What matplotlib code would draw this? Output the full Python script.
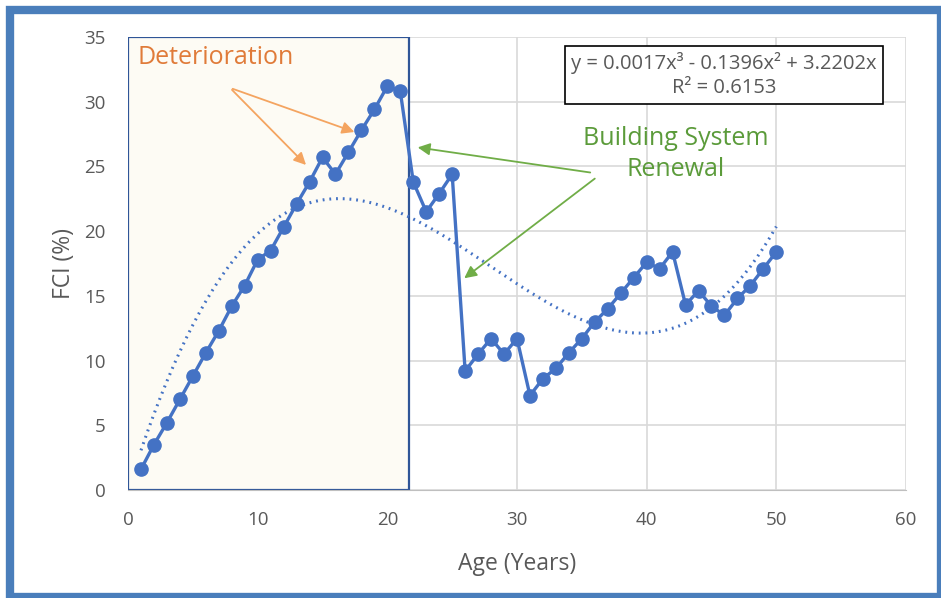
import matplotlib
matplotlib.use('Agg')
import matplotlib.pyplot as plt
from matplotlib.patches import Rectangle
import numpy as np

plt.rcParams['font.family'] = ['Open Sans', 'DejaVu Sans']

# data
age = list(range(1, 51))
fci = [1.6, 3.5, 5.2, 7.0, 8.8, 10.6, 12.3, 14.2, 15.8, 17.8,
       18.5, 20.3, 22.1, 23.8, 25.7, 24.4, 26.1, 27.8, 29.4, 31.2,
       30.8, 23.8, 21.5, 22.9, 24.4, 9.2, 10.5, 11.7, 10.5, 11.7,
       7.3, 8.6, 9.4, 10.6, 11.7, 13.0, 14.0, 15.2, 16.4, 17.6,
       17.1, 18.4, 14.3, 15.4, 14.2, 13.5, 14.8, 15.8, 17.1, 18.4]
eq_text = 'y = 0.0017x³ - 0.1396x² + 3.2202x\nR² = 0.6153'

blue = '#4472C4'
grey = '#595959'

fig = plt.figure(figsize=(9.41, 5.98), dpi=100)
ax = fig.add_axes([128/941, 108/598, 778/941, 453/598])

# deterioration period shading
ax.add_patch(Rectangle((0, 0), 21.67, 35, facecolor='#FDFBF4',
                       edgecolor='#2F5597', lw=1.6, zorder=1))

ax.plot(age, fci, color=blue, lw=2.4, marker='o', ms=9.5, zorder=4)

# cubic trendline through the origin (Excel style), fitted to the series
x = np.array(age, dtype=float)
A = np.vstack([x**3, x**2, x]).T
coef = np.linalg.lstsq(A, np.array(fci), rcond=None)[0]
xs = np.linspace(1, 50, 200)
ys = coef[0]*xs**3 + coef[1]*xs**2 + coef[2]*xs
ax.plot(xs, ys, color=blue, lw=2.2, ls=(0, (0.6, 1.6)), zorder=3)

ax.set_xlim(0, 60)
ax.set_ylim(0, 35)
ax.set_xticks(range(0, 61, 10))
ax.set_yticks(range(0, 36, 5))
ax.grid(True, color='#D9D9D9', lw=1.2, zorder=0)
ax.set_axisbelow(True)
for s in ['top', 'right', 'left']:
    ax.spines[s].set_visible(False)
ax.spines['bottom'].set_color('#BFBFBF')
ax.tick_params(length=0, labelsize=13.5, labelcolor=grey)
ax.tick_params(axis='y', pad=16)
ax.tick_params(axis='x', pad=15)
ax.set_xlabel('Age (Years)', fontsize=16.5, color=grey, labelpad=17)
ax.set_ylabel('FCI (%)', fontsize=16.5, color=grey, labelpad=6)

ax.text(0.77, 33.45, 'Deterioration', color='#E07B39', fontsize=18,
        va='center', ha='left', zorder=5)
org = dict(arrowstyle='-|>', color='#F4A460', lw=1.3, mutation_scale=18)
ax.annotate('', xy=(13.88, 24.96), xytext=(7.87, 31.07), arrowprops=org, zorder=5)
ax.annotate('', xy=(17.66, 27.59), xytext=(7.87, 31.07), arrowprops=org, zorder=5)

ax.text(42.26, 25.97, 'Building System\nRenewal', color='#5B9B3A', fontsize=18,
        va='center', ha='center', linespacing=1.3, zorder=5)
grn = dict(arrowstyle='-|>', color='#70AD47', lw=1.3, mutation_scale=18)
ax.annotate('', xy=(22.13, 26.5), xytext=(35.86, 24.5), arrowprops=grn, zorder=5)
ax.annotate('', xy=(25.76, 16.23), xytext=(36.17, 24.19), arrowprops=grn, zorder=5)

ax.text(45.96, 32.07, eq_text, color=grey, fontsize=14.5, ha='center', va='center',
        linespacing=1.25, zorder=5,
        bbox=dict(boxstyle='square,pad=0.3', facecolor='white', edgecolor='black', lw=1.2))

# blue frame round the whole chart
fig.add_artist(Rectangle((10/941, 1/598), 931/941, 587/598, transform=fig.transFigure,
                         fill=False, edgecolor='#4A7EBB', lw=6))

fig.savefig('out.png', dpi=100)
